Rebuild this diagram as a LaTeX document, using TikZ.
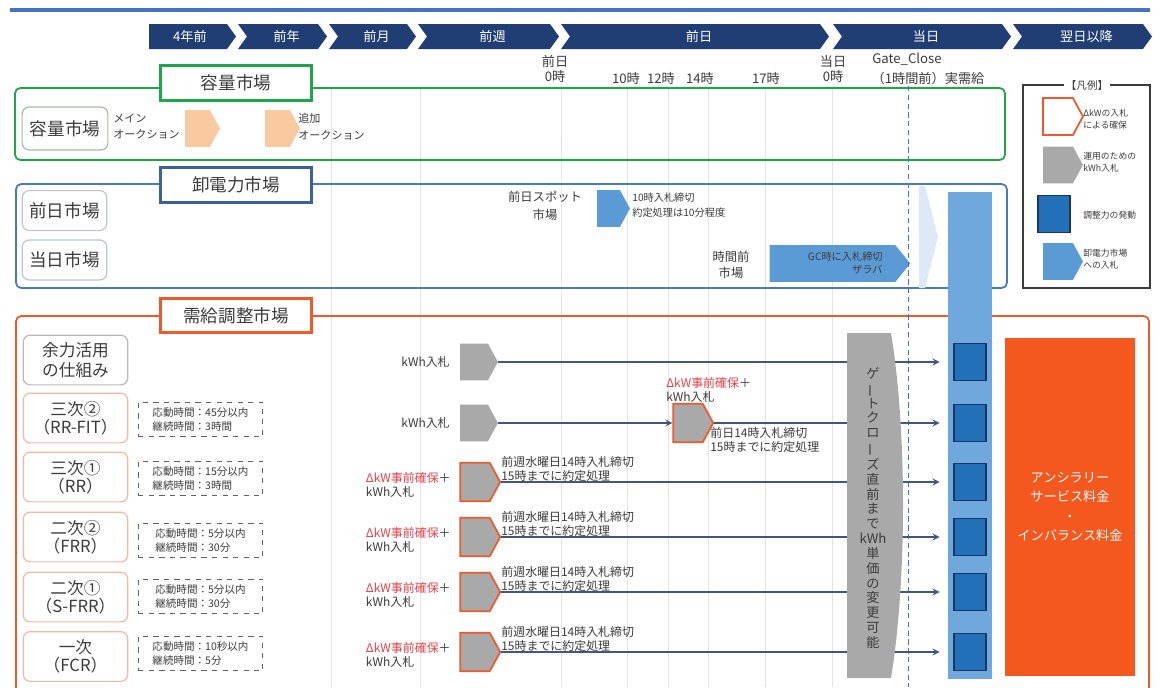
\documentclass[tikz,border=0pt]{standalone}
\usepackage{fontspec}
\setmainfont{Noto Sans CJK JP}
\usepackage{graphicx}
\usepackage{tikz}
\usetikzlibrary{shapes.symbols, arrows, positioning}
\definecolor{hdrnavy}{HTML}{203D74}
\definecolor{topblue}{HTML}{4472C4}
\definecolor{capgreen}{HTML}{1FA64A}
\definecolor{capedge}{HTML}{A3BFA0}
\definecolor{whblue}{HTML}{4A78C2}
\definecolor{whedge}{HTML}{BCC6D6}
\definecolor{bmred}{HTML}{EE5A2A}
\definecolor{salmon}{HTML}{F3B9A4}
\definecolor{peach}{HTML}{F9C9A0}
\definecolor{bidgray}{HTML}{A9A9A9}
\definecolor{skyblue}{HTML}{5B9BD5}
\definecolor{colblue}{HTML}{6FA8DC}
\definecolor{palesky}{HTML}{DDE9F6}
\definecolor{actblue}{HTML}{2270B8}
\definecolor{actedge}{HTML}{1B3564}
\definecolor{feeorange}{HTML}{F4581F}
\definecolor{txtgray}{HTML}{3C3C3C}
\definecolor{redtxt}{HTML}{E8414B}
\definecolor{gridgray}{HTML}{E4E4E4}
\definecolor{linenavy}{HTML}{44557F}
\tikzstyle{arrow} = [->,>=stealth,linenavy,line width=0.75pt,shorten >=7.9pt]
\newcommand{\vbar}{\rotatebox[origin=c]{90}{ー}}
% header chevron: left x, tip x, name, label
\newcommand{\hdrchev}[4]{%
  \fill[hdrnavy] (#1,24) -- (#2-9,24) -- (#2,36.5) -- (#2-9,49) -- (#1,49) -- (#1+9,36.5) -- cycle;
  \node[hdr] (#3) at ({(#1+#2)/2+4},36.5) {#4};}

\begin{document}
\begin{tikzpicture}[x=0.02cm,y=-0.02cm,
    hdr/.style={text=white, font=\fontsize{7.5pt}{9pt}\selectfont},
    tlab/.style={text=txtgray, align=center, inner sep=0pt, font=\fontsize{7.5pt}{9pt}\selectfont},
    ttl/.style={draw, fill=white, line width=1.7pt, minimum width=86pt, minimum height=19.5pt,
      text=txtgray, font=\fontsize{10pt}{12pt}\selectfont},
    rowlab/.style={draw, rounded corners=4pt, line width=0.7pt, fill=white, minimum width=59.5pt,
      minimum height=28.3pt, align=center, inner sep=1pt, text=txtgray,
      font=\fontsize{9.5pt}{10.5pt}\selectfont},
    spec/.style={draw=txtgray!80, dashed, line width=0.6pt, minimum width=70.9pt, minimum height=19.8pt,
      align=left, text=txtgray, font=\fontsize{6pt}{7.6pt}\selectfont},
    note/.style={text=txtgray, align=left, inner sep=0pt, font=\fontsize{6.8pt}{7.8pt}\selectfont},
    bid/.style={signal, signal to=east, signal pointer angle=123, inner sep=0pt,
      minimum width=22pt, minimum height=21pt},
    act/.style={draw=actedge, fill=actblue, line width=0.8pt, minimum width=18.1pt,
      minimum height=21pt, inner sep=0pt},
    legt/.style={text=txtgray, align=left, inner sep=0pt, anchor=west,
      font=\fontsize{5pt}{6.8pt}\selectfont}]
    \useasboundingbox (0,0) rectangle (1160,687);
    \clip (0,0) rectangle (1160,687);
    \fill[white] (0,0) rectangle (1160,687);

    % time axis
    \draw[topblue, line width=2.5pt] (10,10) -- (1150,10);
    \fill[hdrnavy] (149,24) -- (227,24) -- (236,36.5) -- (227,49) -- (149,49) -- cycle;
    \node[hdr] (h4y) at (190,36.5) {4年前};
    \hdrchev{238}{327}{hpy}{前年}
    \hdrchev{329}{416}{hpm}{前月}
    \hdrchev{418}{559}{hpw}{前週}
    \hdrchev{561}{829}{hpd}{前日}
    \hdrchev{833}{1011}{hsd}{当日}
    \hdrchev{1013}{1152}{hnd}{翌日以降}

    \node[tlab] (t0) at (555,69) {前日\\0時};
    \node[tlab] (t10) at (626,78) {10時};
    \node[tlab] (t12) at (661,78) {12時};
    \node[tlab] (t14) at (700,78) {14時};
    \node[tlab] (t17) at (766,78) {17時};
    \node[tlab] (tsd) at (833,69) {当日\\0時};
    \node[tlab] (tgc) at (907,59) {Gate\_Close};
    \node[tlab] (tjj) at (928,78) {（1時間前）実需給};

    % grid
    \foreach \gx in {331,420,561,627,668,708,765,832}
      \draw[gridgray, line width=0.5pt] (\gx,88) -- (\gx,687);

    % capacity market
    \draw[capgreen, line width=1pt, rounded corners=3pt] (15,88) rectangle (1005,160);
    \node[ttl, draw=capgreen] (capttl) at (236,83) {容量市場};
    \node[rowlab, draw=capedge, minimum width=48.8pt, minimum height=24.4pt,
      font=\fontsize{10pt}{12pt}\selectfont] (caplab) at (65,128.5) {容量市場};
    \node[note, anchor=west, font=\fontsize{6.3pt}{9.5pt}\selectfont] (mainau) at (113,126.5) {メイン\\オークション};
    \node[bid, fill=peach, minimum width=19.8pt] (capb1) at (197.5,128.5) {};
    \node[bid, fill=peach, minimum width=19.8pt] (capb2) at (277.5,128.5) {};
    \node[note, anchor=west, font=\fontsize{6.3pt}{9.5pt}\selectfont] (addau) at (298,126.5) {追加\\オークション};

    % wholesale market
    \draw[whblue, line width=1pt, rounded corners=3pt] (16,184) rectangle (1007,288);
    \node[ttl, draw=whblue!80!black] (whttl) at (236,185) {卸電力市場};
    \node[rowlab, draw=whedge, minimum width=48.2pt, minimum height=22.7pt,
      font=\fontsize{10pt}{12pt}\selectfont] (dalab) at (64.5,210.5) {前日市場};
    \node[rowlab, draw=whedge, minimum width=48.2pt, minimum height=22.7pt,
      font=\fontsize{10pt}{12pt}\selectfont] (idlab) at (64.5,260) {当日市場};
    \node[tlab, font=\fontsize{7pt}{10pt}\selectfont] (spotlab) at (545,206) {前日スポット\\市場};
    \node[bid, fill=skyblue, minimum width=18.7pt] (spot) at (608.5,208.5) {};
    \node[note, anchor=west, font=\fontsize{5.8pt}{8.5pt}\selectfont] (spotnote) at (632,205) {10時入札締切\\約定処理は10分程度};
    \node[tlab, font=\fontsize{7pt}{9pt}\selectfont] (intlab) at (731,265) {時間前\\市場};
    \node[bid, fill=skyblue, minimum width=80pt, signal pointer angle=102] (intra) at (832.5,263.5) {};
    \node[note, anchor=east, align=right, font=\fontsize{5.8pt}{7pt}\selectfont] (intnote) at (883,263) {GC時に入札締切\\ザラバ};
    \fill[palesky] (919,186) -- (925,186) -- (938,237) -- (925,288) -- (919,288) -- cycle;

    % balancing market
    \draw[bmred, line width=1pt, rounded corners=3pt] (16,316) rectangle (1149,700);
    \node[ttl, draw=bmred] (bmttl) at (236,315.5) {需給調整市場};

    \node[rowlab, draw=gray!55, font=\fontsize{9.5pt}{11.5pt}\selectfont] (l-yr) at (75.5,360) {余力活用\\の仕組み};
    \node[rowlab, draw=salmon] (l-rrfit) at (75.5,418) {三次②\\（RR-FIT）};
    \node[rowlab, draw=salmon] (l-rr) at (75.5,477) {三次①\\（RR）};
    \node[rowlab, draw=salmon] (l-frr) at (75.5,537) {二次②\\（FRR）};
    \node[rowlab, draw=salmon] (l-sfrr) at (75.5,597) {二次①\\（S-FRR）};
    \node[rowlab, draw=salmon] (l-fcr) at (75.5,656.5) {一次\\（FCR）};

    \node[spec] (s-rrfit) at (200.5,419.5) {応動時間：45分以内\\継続時間：3時間};
    \node[spec] (s-rr) at (200.5,478.5) {応動時間：15分以内\\継続時間：3時間};
    \node[spec] (s-frr) at (200.5,540.5) {応動時間：5分以内\\継続時間：30分};
    \node[spec] (s-sfrr) at (200.5,596.5) {応動時間：5分以内\\継続時間：30分};
    \node[spec] (s-fcr) at (200.5,653.5) {応動時間：10秒以内\\継続時間：5分};

    % activation column
    \fill[colblue] (948,192) rectangle (992,679);
    \draw[topblue, densely dashed, line width=0.5pt] (908,86) -- (908,687);
    \node[act] (a-yr) at (970,362) {};
    \node[act] (a-rrfit) at (970,423) {};
    \node[act] (a-rr) at (970,482) {};
    \node[act] (a-frr) at (970,537) {};
    \node[act] (a-sfrr) at (970,592) {};
    \node[act] (a-fcr) at (970,652) {};

    % bids
    \node[bid, fill=bidgray, minimum width=21.5pt] (b-yr) at (474,362) {};
    \node[note, anchor=east] (k-yr) at (450,362) {kWh入札};
    \node[bid, fill=bidgray, minimum width=21.5pt] (b-rrfit) at (474,423) {};
    \node[note, anchor=east] (k-rrfit) at (450,423) {kWh入札};
    \node[bid, fill=bidgray, draw=bmred, line width=1pt, minimum width=22.7pt, minimum height=22pt] (o-rrfit) at (688,423) {};
    \node[note, anchor=west] (r-rrfit) at (666,390) {\textcolor{redtxt}{ΔkW事前確保}＋\\kWh入札};
    \node[note, anchor=west] (n-rrfit) at (710,440) {前日14時入札締切\\15時までに約定処理};
    \draw[arrow] (b-yr.east) -- (a-yr.west);
    \draw[arrow, shorten >=0pt] (b-rrfit.east) -- (o-rrfit.west);
    \draw[arrow] (o-rrfit.east) -- (a-rrfit.west);
    \foreach \y/\nm in {482/rr,537/frr,592/sfrr,652/fcr}{
      \node[bid, fill=bidgray, draw=bmred, line width=1pt, minimum width=22.7pt, minimum height=22pt] (o-\nm) at (475,\y) {};
      \node[note, anchor=east] (r-\nm) at (451,\y+3) {\textcolor{redtxt}{ΔkW事前確保}＋\\kWh入札};
      \node[note, anchor=west] (n-\nm) at (501,\y-13) {前週水曜日14時入札締切\\15時までに約定処理};
      \draw[arrow] (o-\nm.east) -- (a-\nm.west);
    }

    % gate closure
    \fill[bidgray] (847,333) -- (891,333) .. controls (907,430) and (907,580) .. (891,678) -- (847,678) -- cycle;
    \node[tlab, font=\fontsize{7.5pt}{8.45pt}\selectfont] (gate) at (873,508)
      {ゲ\\\vbar\\ト\\ク\\ロ\\\vbar\\ズ\\直\\前\\ま\\で\\kWh\\単\\価\\の\\変\\更\\可\\能};

    % fees
    \node[fill=feeorange, text=white, minimum width=73.7pt, minimum height=192.8pt, align=center,
      font=\fontsize{7.5pt}{11pt}\selectfont] (fee) at (1070,507) {アンシラリー\\サービス料金\\・\\インバランス料金};

    % legend
    \draw[txtgray, line width=0.8pt] (1023,85) rectangle (1150,288);
    \node[fill=white, inner sep=1pt, text=txtgray, font=\fontsize{6pt}{7pt}\selectfont] (legttl) at (1087,85) {【凡例】};
    \node[bid, fill=white, draw=bmred, line width=1pt, minimum width=22.7pt] (lg1) at (1058,116.5) {};
    \node[legt] (lgt1) at (1083,119) {ΔkWの入札\\による確保};
    \node[bid, fill=bidgray, minimum width=22.7pt] (lg2) at (1058,165) {};
    \node[legt] (lgt2) at (1083,162) {運用のための\\kWh入札};
    \node[act] (lg3) at (1054,214) {};
    \node[legt] (lgt3) at (1083,215) {調整力の発動};
    \node[bid, fill=skyblue, minimum width=22.7pt] (lg4) at (1058,261.5) {};
    \node[legt] (lgt4) at (1083,259) {卸電力市場\\への入札};
\end{tikzpicture}
\end{document}
